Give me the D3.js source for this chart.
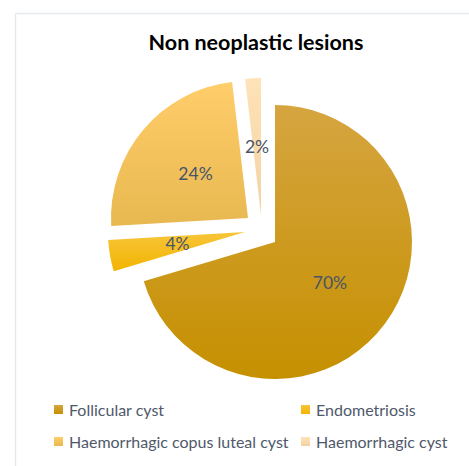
<!DOCTYPE html>
<html>
<head>
<meta charset="utf-8">
<script src="https://cdn.jsdelivr.net/npm/d3@7"></script>
<style>
  body { margin: 0; background: #fff; }
  svg { display: block; }
</style>
</head>
<body>
<div id="chart"></div>
<script>
"use strict";

// data (counts, labels shown as rounded percentages)
var categories = ["Follicular cyst", "Endometriosis", "Haemorrhagic copus luteal cyst", "Haemorrhagic cyst"];
var counts = [38, 2, 13, 1];

var width = 469,
    height = 466,
    radius = 137,
    cx = 275,
    cy = 242;

// gradient top / bottom colours per slice
var colorsTop = ["#d6a540", "#f8c53a", "#ffcd6a", "#fee3b8"];
var colorsBottom = ["#c59000", "#f2b400", "#e8b850", "#f2d2a2"];

// how far each slice is pulled out of the pie
var offsets = [[0, 0], [-30, -10], [-27, -24], [-14, -27]];

var svg = d3.select("#chart")
    .append("svg")
    .attr("width", width)
    .attr("height", height);

// chart area border
svg.append("path")
    .attr("d", "M15.5," + height + "V13.5H" + width)
    .attr("fill", "none")
    .attr("stroke", "#e6e9ed")
    .attr("stroke-width", 1.5);

var defs = svg.append("defs");
categories.forEach(function(c, i) {
  var g = defs.append("linearGradient")
      .attr("id", "grad" + i)
      .attr("x1", 0).attr("y1", 0)
      .attr("x2", 0).attr("y2", 1);
  g.append("stop").attr("offset", "0%").attr("stop-color", colorsTop[i]);
  g.append("stop").attr("offset", "100%").attr("stop-color", colorsBottom[i]);
});

svg.append("text")
    .attr("x", 256)
    .attr("y", 50)
    .attr("text-anchor", "middle")
    .style("font-family", "Lato, 'Open Sans', sans-serif")
    .style("font-weight", "bold")
    .style("font-size", "21.5px")
    .style("fill", "#000")
    .text("Non neoplastic lesions");

var total = d3.sum(counts);

var pie = d3.pie().sort(null)(counts);
var arc = d3.arc().innerRadius(0).outerRadius(radius);

var slices = svg.append("g")
    .attr("transform", "translate(" + cx + "," + cy + ")")
    .selectAll(".slice")
    .data(pie)
    .enter()
    .append("g")
    .attr("class", "slice")
    .attr("transform", function(d, i) {
      return "translate(" + offsets[i][0] + "," + offsets[i][1] + ")"
    });

slices.append("path")
    .attr("d", arc)
    .attr("fill", function(d, i) { return "url(#grad" + i + ")" });

slices.append("text")
    .attr("transform", function(d) {
      var c = arc.centroid(d);
      return "translate(" + c[0] + "," + c[1] + ")"
    })
    .attr("dy", "0.36em")
    .attr("text-anchor", "middle")
    .style("font-family", "Lato, 'Open Sans', sans-serif")
    .style("font-size", "17.5px")
    .style("fill", "#48546a")
    .text(function(d) { return Math.round(d.value / total * 100) + "%" });

// legend, two columns
var legendX = [54, 301],
    legendY = [410, 442];

var legend = svg.selectAll(".legend")
    .data(categories)
    .enter()
    .append("g")
    .attr("class", "legend")
    .attr("transform", function(d, i) {
      return "translate(" + legendX[i % 2] + "," + legendY[Math.floor(i / 2)] + ")"
    });

legend.append("rect")
    .attr("x", 0)
    .attr("y", -5)
    .attr("width", 9)
    .attr("height", 9)
    .attr("fill", function(d, i) { return "url(#grad" + i + ")" });

legend.append("text")
    .attr("x", 15)
    .attr("dy", "0.36em")
    .style("font-family", "Lato, 'Open Sans', sans-serif")
    .style("font-size", "16px")
    .style("fill", "#4f596a")
    .text(function(d) { return d });
</script>
</body>
</html>
